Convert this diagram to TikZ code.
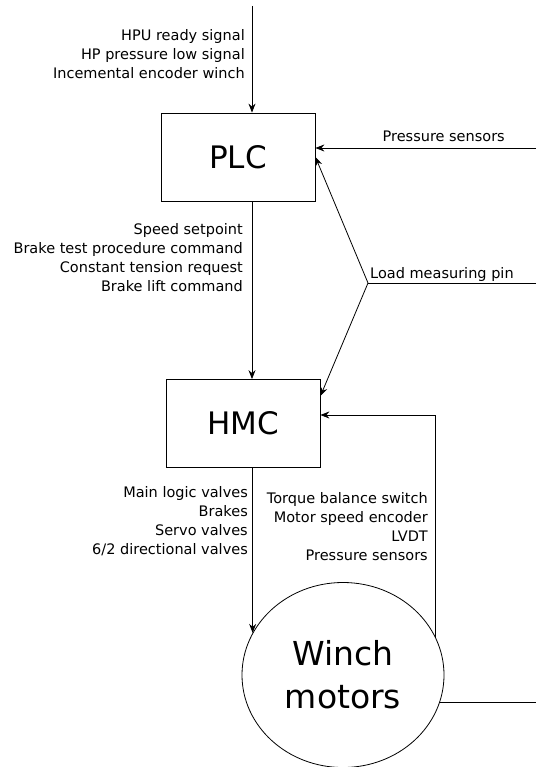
\documentclass[tikz,border=0pt]{standalone}
\usepackage{fontspec}
\setmainfont{DejaVu Sans}
\usetikzlibrary{arrows.meta,calc,positioning,shapes.geometric}

\tikzset{
  block/.style={draw, line width=0.8pt, minimum width=154pt, minimum height=88pt,
    inner sep=0pt, font=\fontsize{31}{37}\selectfont},
  motor/.style={draw, ellipse, line width=0.8pt, minimum width=202pt, minimum height=185pt,
    inner sep=0pt, align=center, font=\fontsize{33}{43}\selectfont},
  sig/.style={align=right, inner sep=0pt, font=\fontsize{14.5}{19}\selectfont},
  flow/.style={-{Stealth[length=9pt,width=7pt,inset=3pt]}, line width=0.8pt},
  wire/.style={line width=0.8pt},
}

\begin{document}
\begin{tikzpicture}[x=1pt, y=-1pt]
\useasboundingbox (0,0) rectangle (536,767);

\node[block] (plc) at (238,157) {PLC};
\node[block] (hmc) at (243,423.5) {HMC};
\node[motor] (winch) at (343,675) {Winch\\motors};

\coordinate (in) at (252,6);
\coordinate (ps) at (536,148);
\coordinate (pin) at (368,283);
\coordinate (pinend) at (536,283);
\coordinate (fb) at (435,415);
\coordinate (out) at (536,703);

% signals into the PLC
\draw[flow] (in) -- (in |- plc.north);
\draw[flow] (ps) -- (ps -| plc.east);
\draw[wire] (pinend) -- (pin);
\draw[flow] (pin) -- (plc.east);
\draw[flow] (pin) -- ($(hmc.north east)+(0,17)$);

% PLC to HMC to winch motors
\draw[flow] (plc.south -| in) -- (hmc.north -| in);
\draw[flow] (winch.155 |- hmc.south) -- (winch.155);
\draw[flow] (winch.22) |- (hmc.east |- fb);
\draw[wire] (winch.-16) -- (winch.-16 -| out);

% base anchor sits on the last line
\node[sig, anchor=base east] (inlbl) at (245,79)
  {HPU ready signal\\HP pressure low signal\\Incemental encoder winch};
\node[sig, anchor=base east] (pslbl) at (505,142) {Pressure sensors};
\node[sig, anchor=base west] (pinlbl) at (370,278) {Load measuring pin};
\node[sig, anchor=base east] (cmdlbl) at (243,291)
  {Speed setpoint\\Brake test procedure command\\Constant tension request\\Brake lift command};
\node[sig, anchor=base east] (vlvlbl) at (248,554)
  {Main logic valves\\Brakes\\Servo valves\\6/2 directional valves};
\node[sig, anchor=base east] (fblbl) at (428,560)
  {Torque balance switch\\Motor speed encoder\\LVDT\\Pressure sensors};
\end{tikzpicture}
\end{document}
